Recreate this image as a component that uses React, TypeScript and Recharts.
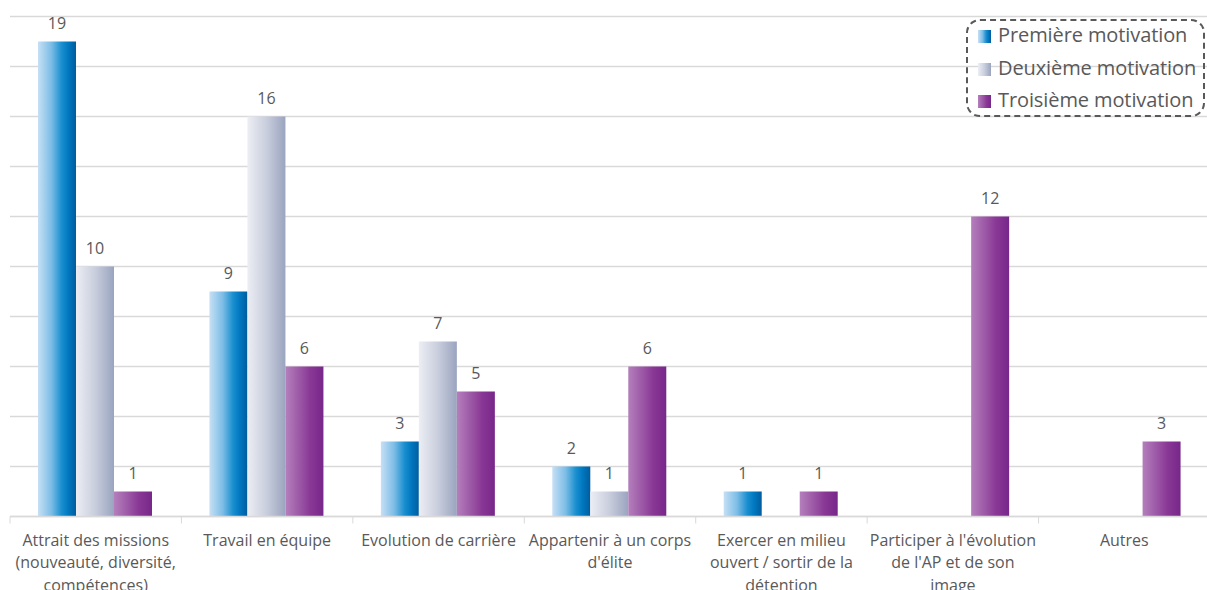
import React from 'react'
import { BarChart, Bar, XAxis, YAxis, CartesianGrid, Legend, LabelList } from 'recharts'

const categories = [
    'Attrait des missions|(nouveauté, diversité,|compétences)',
    'Travail en équipe',
    'Evolution de carrière',
    "Appartenir à un corps|d'élite",
    'Exercer en milieu|ouvert / sortir de la|détention',
    "Participer à l'évolution|de l'AP et de son|image",
    'Autres',
]
const premiere = [19, 9, 3, 2, 1, 0, 0]
const deuxieme = [10, 16, 7, 1, 0, 0, 0]
const troisieme = [1, 6, 5, 6, 1, 12, 3]
const yTicks = [0, 2, 4, 6, 8, 10, 12, 14, 16, 18, 20]

const seriesNames = ['Première motivation', 'Deuxième motivation', 'Troisième motivation']

const data = categories.map((name, i) => ({
    name,
    premiere: premiere[i],
    deuxieme: deuxieme[i],
    troisieme: troisieme[i],
}))

const W = 1207
const H = 590
const MARGIN = { top: 16.5, right: -3, left: 10, bottom: 0 }
const BAND = (W - MARGIN.left - MARGIN.right) / categories.length
const FONT = '"Open Sans", Lato, sans-serif'
const TEXT = '#595959'
const GRID = '#d9d9d9'

const gradients = {
    blue: 'linear-gradient(to right, #c6e0f5 0%, #7dbde6 35%, #1a8fd0 62%, #0078c0 80%, #005c9e 100%)',
    gray: 'linear-gradient(to right, #eceef4 0%, #c9cedd 50%, #9aa4bf 100%)',
    purple: 'linear-gradient(to right, #b47fbc 0%, #9a55a4 40%, #8a3896 65%, #77278a 100%)',
}

// eslint-disable-next-line @typescript-eslint/no-explicit-any
const CategoryTick = (props: any) => {
    const { x, y, payload } = props
    const lines = String(payload.value).split('|')
    const left = x - BAND / 2
    return (
        <g>
            <line x1={left} x2={left} y1={y} y2={y + 7} stroke={GRID} strokeWidth={1} />
            <text textAnchor="middle" fill={TEXT} fontSize={16} fontFamily={FONT}>
                {lines.map((l, i) => (
                    <tspan key={i} x={x} y={y + 29 + i * 22.5}>
                        {l}
                    </tspan>
                ))}
            </text>
        </g>
    )
}

// eslint-disable-next-line @typescript-eslint/no-explicit-any
const ValueLabel = (props: any) => {
    const { x, y, width, value } = props
    if (!value) return null
    return (
        <text x={x + width / 2} y={y - 13} textAnchor="middle" fill={TEXT} fontSize={16} fontFamily={FONT}>
            {value}
        </text>
    )
}

const LegendBox = () => {
    const swatches = [gradients.blue, gradients.gray, gradients.purple]
    return (
        <div
            style={{
                border: '2px dashed #595959',
                borderRadius: 14,
                padding: '0 0 0 10px',
                boxSizing: 'border-box',
                width: 239,
                height: 98,
                fontFamily: FONT,
            }}
        >
            {seriesNames.map((n, i) => (
                <div key={n} style={{ display: 'flex', alignItems: 'center', height: 32.5, marginTop: i === 0 ? -2 : 0 }}>
                    <span style={{ width: 13, height: 13, background: swatches[i], marginRight: 7, marginTop: 3, flex: 'none' }} />
                    <span style={{ color: TEXT, fontSize: 20, whiteSpace: 'nowrap', lineHeight: '20px', letterSpacing: -0.1 }}>{n}</span>
                </div>
            ))}
        </div>
    )
}

export default function App() {
    return (
        <div style={{ width: W, height: H, background: '#fff', overflow: 'hidden' }}>
            <style>{'body{margin:0}'}</style>
            <BarChart
                width={W}
                height={H}
                data={data}
                margin={MARGIN}
                barCategoryGap={28}
                barGap={0}
            >
                <defs>
                    <linearGradient id="gBlue" x1="0" y1="0" x2="1" y2="0">
                        <stop offset="0%" stopColor="#c6e0f5" />
                        <stop offset="35%" stopColor="#7dbde6" />
                        <stop offset="62%" stopColor="#1a8fd0" />
                        <stop offset="80%" stopColor="#0078c0" />
                        <stop offset="100%" stopColor="#005c9e" />
                    </linearGradient>
                    <linearGradient id="gGray" x1="0" y1="0" x2="1" y2="0">
                        <stop offset="0%" stopColor="#eceef4" />
                        <stop offset="50%" stopColor="#c9cedd" />
                        <stop offset="100%" stopColor="#9aa4bf" />
                    </linearGradient>
                    <linearGradient id="gPurple" x1="0" y1="0" x2="1" y2="0">
                        <stop offset="0%" stopColor="#b47fbc" />
                        <stop offset="40%" stopColor="#9a55a4" />
                        <stop offset="65%" stopColor="#8a3896" />
                        <stop offset="100%" stopColor="#77278a" />
                    </linearGradient>
                </defs>
                <CartesianGrid vertical={false} stroke={GRID} strokeWidth={1.3} />
                <XAxis
                    dataKey="name"
                    height={73.5}
                    interval={0}
                    tickSize={0}
                    tickMargin={0}
                    tickLine={false}
                    axisLine={{ stroke: GRID, strokeWidth: 1.3 }}
                    tick={<CategoryTick />}
                />
                <YAxis hide domain={[0, 20]} ticks={yTicks} />
                <Legend
                    layout="vertical"
                    align="center"
                    verticalAlign="middle"
                    wrapperStyle={{ top: 19, left: 966, width: 239 }}
                    content={<LegendBox />}
                />
                <Bar dataKey="premiere" name={seriesNames[0]} fill="url(#gBlue)" isAnimationActive={false}>
                    <LabelList dataKey="premiere" content={<ValueLabel />} />
                </Bar>
                <Bar dataKey="deuxieme" name={seriesNames[1]} fill="url(#gGray)" isAnimationActive={false}>
                    <LabelList dataKey="deuxieme" content={<ValueLabel />} />
                </Bar>
                <Bar dataKey="troisieme" name={seriesNames[2]} fill="url(#gPurple)" isAnimationActive={false}>
                    <LabelList dataKey="troisieme" content={<ValueLabel />} />
                </Bar>
            </BarChart>
        </div>
    )
}
